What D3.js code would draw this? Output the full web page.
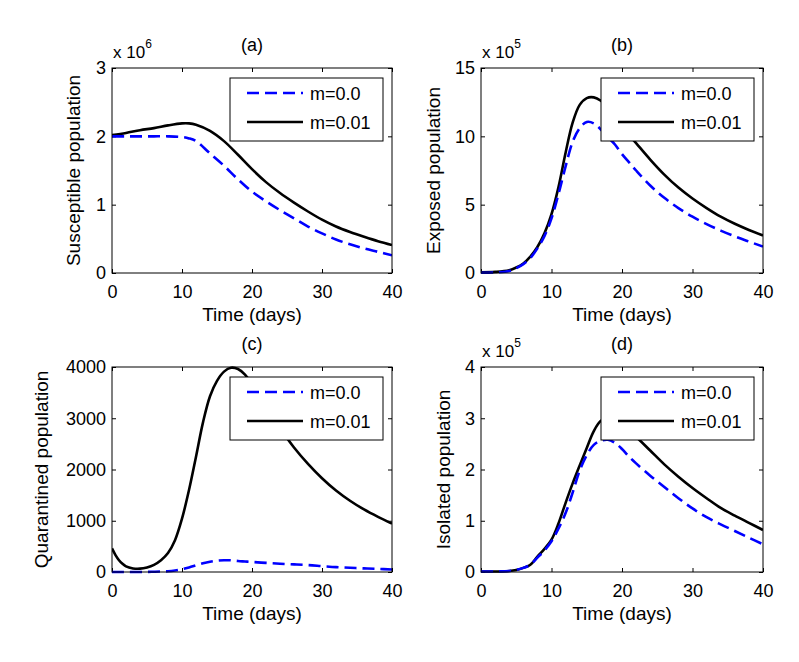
<!DOCTYPE html>
<html>
<head>
<meta charset="utf-8">
<script src="https://cdn.jsdelivr.net/npm/d3@7"></script>
<style>
  body { margin: 0; background: #fff; }
  text { font-family: "Liberation Sans", Arial, Helvetica, sans-serif; fill: #000; }
</style>
</head>
<body>
<svg id="chart" width="799" height="662"></svg>
<script>
// ---- data ----
const xTicks = [0, 10, 20, 30, 40];
const legendLabels = ['m=0.0', 'm=0.01'];

// (a) susceptible, units of 1e6
const timeA = [0, 2, 4, 6, 8, 10, 11, 12, 14, 16, 18, 20, 22, 24, 26, 28, 30, 32, 34, 36, 38, 40];
const susM0 = [2.0, 2.0, 2.0, 2.0, 2.0, 1.99, 1.97, 1.93, 1.75, 1.57, 1.37, 1.19, 1.05, 0.92, 0.8, 0.68, 0.58, 0.49, 0.42, 0.36, 0.31, 0.26];
const susM01 = [2.02, 2.05, 2.09, 2.12, 2.16, 2.19, 2.19, 2.17, 2.08, 1.93, 1.73, 1.52, 1.33, 1.17, 1.03, 0.9, 0.78, 0.68, 0.6, 0.53, 0.465, 0.41];
const ticksA = [0, 1, 2, 3];

// (b) exposed, units of 1e5
const timeB = [0, 2, 4, 5, 6, 7, 8, 9, 10, 11, 12, 13, 14, 15, 16, 17, 18, 19, 20, 21, 22, 24, 26, 28, 30, 32, 34, 36, 38, 40];
const expM0 = [0.02, 0.04, 0.15, 0.35, 0.65, 1.1, 1.8, 2.7, 4.0, 5.8, 7.8, 9.6, 10.6, 11.05, 10.95, 10.5, 9.95, 9.4, 8.7, 8.1, 7.5, 6.4, 5.5, 4.75, 4.12, 3.58, 3.1, 2.68, 2.3, 1.93];
const expM01 = [0.05, 0.08, 0.2, 0.4, 0.7, 1.2, 1.9, 2.9, 4.3, 6.3, 8.8, 11.0, 12.3, 12.8, 12.85, 12.6, 12.1, 11.4, 10.7, 10.1, 9.5, 8.3, 7.2, 6.25, 5.45, 4.75, 4.12, 3.6, 3.15, 2.75];
const ticksB = [0, 5, 10, 15];

// (c) quarantined
const timeC = [0, 0.5, 1, 1.5, 2, 3, 4, 5, 6, 7, 8, 9, 10, 11, 12, 13, 14, 15, 16, 17, 18, 19, 20, 22, 24, 26, 28, 30, 32, 34, 36, 38, 40];
const quaM0 = [0, 0, 0, 0, 0, 0, 0, 2, 5, 10, 15, 30, 55, 90, 130, 170, 200, 220, 230, 228, 215, 205, 195, 178, 162, 148, 135, 115, 95, 82, 70, 60, 50];
const quaM01 = [460, 330, 230, 160, 110, 70, 65, 90, 140, 230, 370, 620, 1040, 1600, 2250, 2920, 3430, 3730, 3910, 3985, 3960, 3850, 3660, 3240, 2810, 2430, 2110, 1830, 1590, 1390, 1220, 1075, 945];
const ticksC = [0, 1000, 2000, 3000, 4000];

// (d) isolated, units of 1e5
const timeD = [0, 2, 4, 5, 6, 7, 8, 9, 10, 11, 12, 13, 14, 15, 16, 17, 18, 19, 20, 21, 22, 24, 26, 28, 30, 32, 34, 36, 38, 40];
const isoM0 = [0.01, 0.01, 0.02, 0.04, 0.08, 0.14, 0.28, 0.42, 0.6, 0.85, 1.15, 1.55, 1.98, 2.28, 2.48, 2.56, 2.58, 2.52, 2.4, 2.25, 2.12, 1.88, 1.66, 1.44, 1.24, 1.07, 0.93, 0.8, 0.67, 0.54];
const isoM01 = [0.01, 0.01, 0.02, 0.04, 0.08, 0.14, 0.3, 0.45, 0.63, 0.95, 1.35, 1.73, 2.08, 2.42, 2.75, 2.95, 3.0, 2.97, 2.88, 2.76, 2.64, 2.37, 2.1, 1.86, 1.64, 1.44, 1.25, 1.1, 0.96, 0.82];
const ticksD = [0, 1, 2, 3, 4];

// ---- layout ----
const panels = [
    { left: 112, right: 392, top: 68, bottom: 273, title: '(a)', ylabel: 'Susceptible population', labelX: 80,
      time: timeA, m0: susM0, m01: susM01, yTicks: ticksA, exp: '6' },
    { left: 481, right: 763, top: 68, bottom: 273, title: '(b)', ylabel: 'Exposed population', labelX: 440,
      time: timeB, m0: expM0, m01: expM01, yTicks: ticksB, exp: '5' },
    { left: 112, right: 392, top: 367, bottom: 572, title: '(c)', ylabel: 'Quarantined population', labelX: 48,
      time: timeC, m0: quaM0, m01: quaM01, yTicks: ticksC, exp: null },
    { left: 481, right: 763, top: 367, bottom: 572, title: '(d)', ylabel: 'Isolated population', labelX: 450,
      time: timeD, m0: isoM0, m01: isoM01, yTicks: ticksD, exp: '5' }
];

const svg = d3.select('#chart');
const tickLen = 4;

panels.forEach((p, idx) => {
    const x = d3.scaleLinear().domain([0, 40]).range([p.left, p.right]);
    const y = d3.scaleLinear().domain(d3.extent(p.yTicks)).range([p.bottom, p.top]);
    const g = svg.append('g');

    const clipId = 'clip' + idx;
    g.append('clipPath').attr('id', clipId)
        .append('rect')
        .attr('x', p.left).attr('y', p.top - 2)
        .attr('width', p.right - p.left).attr('height', p.bottom - p.top + 4);

    // axes with inward ticks on all four sides
    const styleAxis = sel => {
        sel.select('.domain').remove();
        sel.selectAll('.tick line').attr('stroke', '#000');
        sel.selectAll('.tick text').style('font-size', '18px').attr('fill', '#000');
    };
    g.append('g').attr('transform', `translate(0,${p.bottom})`)
        .call(d3.axisBottom(x).tickValues(xTicks).tickSize(-tickLen).tickPadding(12))
        .call(styleAxis);
    g.append('g').attr('transform', `translate(0,${p.top})`)
        .call(d3.axisTop(x).tickValues(xTicks).tickSize(-tickLen).tickFormat(''))
        .call(styleAxis);
    g.append('g').attr('transform', `translate(${p.left},0)`)
        .call(d3.axisLeft(y).tickValues(p.yTicks).tickSize(-tickLen).tickPadding(6).tickFormat(d3.format('d')))
        .call(styleAxis);
    g.append('g').attr('transform', `translate(${p.right},0)`)
        .call(d3.axisRight(y).tickValues(p.yTicks).tickSize(-tickLen).tickFormat(''))
        .call(styleAxis);

    // curves
    const line = series => d3.line()
        .x((d, i) => x(p.time[i]))
        .y(d => y(d))
        .curve(d3.curveCatmullRom.alpha(0.5))(series);

    const lines = g.append('g').attr('clip-path', `url(#${clipId})`);
    lines.append('path')
        .attr('d', line(p.m01))
        .attr('fill', 'none')
        .attr('stroke', '#000')
        .attr('stroke-width', 2.6);
    lines.append('path')
        .attr('d', line(p.m0))
        .attr('fill', 'none')
        .attr('stroke', '#0000ff')
        .attr('stroke-width', 2.6)
        .attr('stroke-dasharray', '12,6');

    // box
    g.append('rect')
        .attr('x', p.left).attr('y', p.top)
        .attr('width', p.right - p.left).attr('height', p.bottom - p.top)
        .attr('fill', 'none').attr('stroke', '#000').attr('stroke-width', 1);

    // legend
    const lg = g.append('g').attr('transform', `translate(${p.right - 162},${p.top + 10})`);
    lg.append('rect')
        .attr('x', 0).attr('y', 0).attr('width', 153).attr('height', 63)
        .attr('fill', '#fff').attr('stroke', '#000').attr('stroke-width', 1);
    legendLabels.forEach((lab, i) => {
        const ly = 15 + i * 29;
        lg.append('line')
            .attr('x1', 17).attr('x2', 73).attr('y1', ly).attr('y2', ly)
            .attr('stroke', i === 0 ? '#0000ff' : '#000')
            .attr('stroke-width', 2.6)
            .attr('stroke-dasharray', i === 0 ? '12,6' : null);
        lg.append('text')
            .attr('x', 80).attr('y', ly + 7)
            .style('font-size', '18px')
            .text(lab);
    });

    // labels
    const cx = (p.left + p.right) / 2;
    g.append('text')
        .attr('x', cx).attr('y', p.bottom + 48)
        .attr('text-anchor', 'middle')
        .style('font-size', '19px')
        .text('Time (days)');
    g.append('text')
        .attr('transform', `translate(${p.labelX},${(p.top + p.bottom) / 2}) rotate(-90)`)
        .attr('text-anchor', 'middle')
        .style('font-size', '19px')
        .text(p.ylabel);
    g.append('text')
        .attr('x', cx).attr('y', p.top - 17)
        .attr('text-anchor', 'middle')
        .style('font-size', '18px')
        .text(p.title);
    if (p.exp) {
        const t = g.append('text')
            .attr('x', p.left + 1).attr('y', p.top - 10)
            .style('font-size', '17px');
        t.append('tspan').text('x 10');
        t.append('tspan').attr('dy', -10).style('font-size', '12px').text(p.exp);
    }
});
</script>
</body>
</html>
